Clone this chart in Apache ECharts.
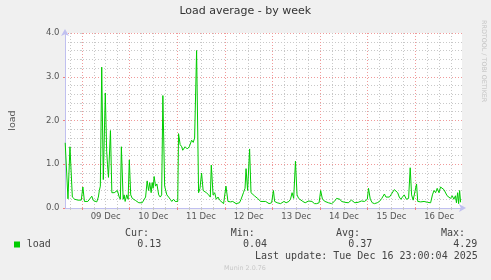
<!DOCTYPE html>
<html>
<head>
<meta charset="utf-8">
<script src="https://cdn.jsdelivr.net/npm/echarts@6/dist/echarts.min.js"></script>
<style>
html,body{margin:0;padding:0;background:#F0F0F0;}
#chart{width:491px;height:280px;}
</style>
</head>
<body>
<div id="chart"></div>
<script>
// Hours relative to 09 Dec 00:00
var hours = [-8.4,-7.0,-6.0,-4.8,-3.6,-2.8,-2.0,-1.1,-0.3,0.5,1.3,2.2,3.0,3.8,5.0,5.8,6.7,7.5,8.3,8.8,9.3,10.0,10.8,11.8,12.5,12.9,13.4,14.4,15.1,16.3,17.1,17.9,18.8,19.4,19.9,20.8,21.3,21.8,22.6,23.3,23.9,24.6,25.4,26.2,27.1,27.9,28.7,29.6,30.4,31.2,32.1,32.9,33.6,34.2,34.9,35.4,35.9,36.4,37.1,37.8,38.7,39.5,40.2,40.8,41.7,42.8,43.7,44.5,45.3,46.2,47.0,47.8,48.3,48.7,49.5,50.3,50.8,52.0,53.1,54.1,55.3,56.1,56.8,57.8,58.8,59.5,60.3,61.1,62.0,62.7,63.9,64.7,65.2,66.1,66.9,67.7,68.6,69.4,70.2,71.4,72.6,73.6,74.9,76.0,77.7,79.4,80.2,81.4,82.2,82.7,83.5,84.5,85.2,86.9,87.7,88.5,89.3,90.1,91.0,92.6,94.3,95.6,96.5,97.1,98.4,100.1,101.8,102.9,104.3,105.1,105.9,106.7,107.6,108.4,109.2,110.1,111.3,112.5,114.2,115.0,115.9,117.2,118.3,119.5,120.3,121.2,122.5,124.2,125.8,127.2,128.3,129.2,130.0,130.8,132.5,134.2,135.8,137.5,139.2,140.8,142.4,143.8,144.4,145.3,146.3,147.4,148.8,149.9,151.1,152.4,153.2,154.1,154.9,155.7,156.6,157.4,158.2,159.1,159.9,160.7,161.5,162.4,163.5,164.6,165.4,166.1,166.9,167.7,168.6,169.2,170.7,172.4,174.1,175.7,176.6,177.4,178.2,179.0,179.9,180.7,181.5,182.4,183.2,184.0,184.9,185.7,186.6,187.4,188.2,188.7,189.3,189.8,190.3,190.8];
var load = [1.49,0.21,1.40,0.25,0.20,0.22,0.18,0.22,0.18,0.48,0.15,0.12,0.15,0.18,0.27,0.17,0.20,0.14,0.25,0.40,0.50,3.22,0.65,2.63,1.30,1.00,0.70,1.77,0.35,0.35,0.35,0.40,0.25,0.20,1.40,0.20,0.30,0.15,0.30,0.20,1.10,0.30,0.22,0.20,0.17,0.14,0.12,0.08,0.12,0.15,0.25,0.62,0.40,0.58,0.35,0.58,0.45,0.72,0.50,0.55,0.30,0.25,0.30,2.57,0.50,0.30,0.25,0.20,0.15,0.20,0.15,0.18,0.15,1.70,1.45,1.40,1.32,1.40,1.35,1.40,1.55,1.50,1.60,3.60,0.35,0.45,0.80,0.40,0.38,0.35,0.30,0.25,0.98,0.30,0.35,0.20,0.25,0.18,0.15,0.10,0.50,0.15,0.14,0.15,0.10,0.12,0.20,0.35,0.45,0.90,0.40,1.35,0.35,0.28,0.25,0.22,0.20,0.15,0.12,0.15,0.10,0.12,0.40,0.15,0.12,0.10,0.15,0.12,0.15,0.20,0.35,0.22,1.07,0.30,0.22,0.18,0.15,0.12,0.16,0.14,0.15,0.10,0.10,0.12,0.40,0.20,0.15,0.12,0.10,0.15,0.22,0.25,0.20,0.15,0.13,0.12,0.18,0.12,0.13,0.16,0.15,0.20,0.45,0.20,0.12,0.10,0.12,0.15,0.22,0.32,0.25,0.28,0.25,0.30,0.28,0.42,0.38,0.35,0.25,0.20,0.25,0.30,0.20,0.22,0.92,0.30,0.18,0.20,0.55,0.15,0.14,0.15,0.13,0.12,0.30,0.40,0.35,0.45,0.35,0.48,0.50,0.42,0.40,0.28,0.25,0.22,0.28,0.20,0.28,0.12,0.35,0.10,0.40,0.13];

var dayLabels = ['09 Dec','10 Dec','11 Dec','12 Dec','13 Dec','14 Dec','15 Dec','16 Dec'];
var dayLabelHours = [12,36,60,84,108,132,156,180];
var dayStartHours = [0,24,48,72,96,120,144,168];
var sixHourTicks = [-6,0,6,12,18,24,30,36,42,48,54,60,66,72,78,84,90,96,102,108,114,120,126,132,138,144,150,156,162,168,174,180,186];
var yTickLabels = ['0.0','1.0','2.0','3.0','4.0'];

var legendHeaders = ['Cur:','Min:','Avg:','Max:'];
var legendValues = ['0.13','0.04','0.37','4.29'];
var lastUpdate = 'Last update: Tue Dec 16 23:00:04 2025';

var xMin = -8.5, xMax = 191.5;
var axisBlue = '#c0c0f0';
var gridGray = '#c8c8c8';
var gridRed = '#f09a9a';

var chart = echarts.init(document.getElementById('chart'), null, {renderer:'canvas'});
var seriesData = hours.map(function(h, i){ return [h, load[i]]; });

var headerX = [125, 230.7, 336, 441];
var valueX = [137.3, 243, 348.3, 453.3];
var mono = '"DejaVu Sans Mono", monospace';
var txt = '#444';
var graphics = [
  {type:'text', x:245.3, y:10.8, style:{text:'Load average - by week', font:'11px "DejaVu Sans"', fill:'#333', align:'center', verticalAlign:'middle'}},
  {type:'text', x:484, y:20, rotation:-Math.PI/2, style:{text:'RRDTOOL / TOBI OETIKER', font:'6.4px "DejaVu Sans"', fill:'#c4c4c4', align:'left', verticalAlign:'middle'}},
  {type:'rect', shape:{x:14, y:241.5, width:6, height:6}, style:{fill:'#00CC00'}},
  {type:'text', x:26.7, y:244.5, style:{text:'load', font:'10px ' + mono, fill:txt, align:'left', verticalAlign:'middle'}},
  {type:'text', x:255, y:256, style:{text:lastUpdate, font:'10px ' + mono, fill:txt, align:'left', verticalAlign:'middle'}},
  {type:'text', x:245, y:268, style:{text:'Munin 2.0.76', font:'6.4px "DejaVu Sans"', fill:'#c8c8c8', align:'center', verticalAlign:'middle'}}
];
legendHeaders.forEach(function(t, i){
  graphics.push({type:'text', x:headerX[i], y:233, style:{text:t, font:'10px ' + mono, fill:txt, align:'left', verticalAlign:'middle'}});
  graphics.push({type:'text', x:valueX[i], y:244.5, style:{text:legendValues[i], font:'10px ' + mono, fill:txt, align:'left', verticalAlign:'middle'}});
});

var option = {
  backgroundColor:'#F0F0F0',
  animation:false,
  grid:{left:60, right:29, top:33, bottom:72, show:true, backgroundColor:'#ffffff', borderWidth:0},
  xAxis:[
    {type:'value', min:xMin, max:xMax, position:'bottom',
     axisLine:{show:false}, axisLabel:{show:false},
     axisTick:{show:true, customValues:sixHourTicks, length:2, lineStyle:{color:gridGray}},
     splitLine:{show:true, lineStyle:{color:gridGray, width:1, type:[1,2]}}},
    {type:'value', min:xMin, max:xMax, position:'bottom',
     axisLine:{show:true, onZero:false, lineStyle:{color:axisBlue, width:1}, symbol:['none','arrow'], symbolSize:[6,7], symbolOffset:[0,4]},
     axisTick:{show:true, customValues:dayStartHours, length:2, lineStyle:{color:'#f08080'}},
     axisLabel:{show:true, customValues:dayLabelHours, margin:4, color:'#555', fontSize:8.5, fontFamily:'DejaVu Sans',
       formatter:function(v){ var i = dayLabelHours.indexOf(Math.round(v)); return i >= 0 ? dayLabels[i] : ''; }},
     splitLine:{show:true, lineStyle:{color:gridRed, width:1, type:[1,2]}}}
  ],
  yAxis:[
    {type:'value', min:0, max:4, interval:0.2, position:'left',
     axisLine:{show:false}, axisLabel:{show:false}, axisTick:{show:true, length:2, lineStyle:{color:gridGray}},
     splitLine:{show:true, lineStyle:{color:gridGray, width:1, type:[1,2]}}},
    {type:'value', min:0, max:4, interval:1, position:'left', offset:0,
     name:'load', nameLocation:'middle', nameRotate:90, nameGap:47,
     nameTextStyle:{color:'#555', fontSize:9.5, fontFamily:'DejaVu Sans'},
     axisLine:{show:true, onZero:false, lineStyle:{color:axisBlue, width:1}, symbol:['none','arrow'], symbolSize:[6,7], symbolOffset:[0,4]},
     axisTick:{show:true, length:2, lineStyle:{color:'#f08080'}},
     axisLabel:{show:true, margin:5.5, color:'#555', fontSize:8.5, fontFamily:'DejaVu Sans',
       formatter:function(v){ return yTickLabels[Math.round(v)]; }},
     splitLine:{show:true, lineStyle:{color:gridRed, width:1, type:[1,2]}}}
  ],
  series:[{
    type:'line', xAxisIndex:0, yAxisIndex:0, data:seriesData, showSymbol:false, symbol:'none',
    lineStyle:{color:'#00CC00', width:1}, z:5
  }],
  graphic:graphics
};
chart.setOption(option);
</script>
</body>
</html>
